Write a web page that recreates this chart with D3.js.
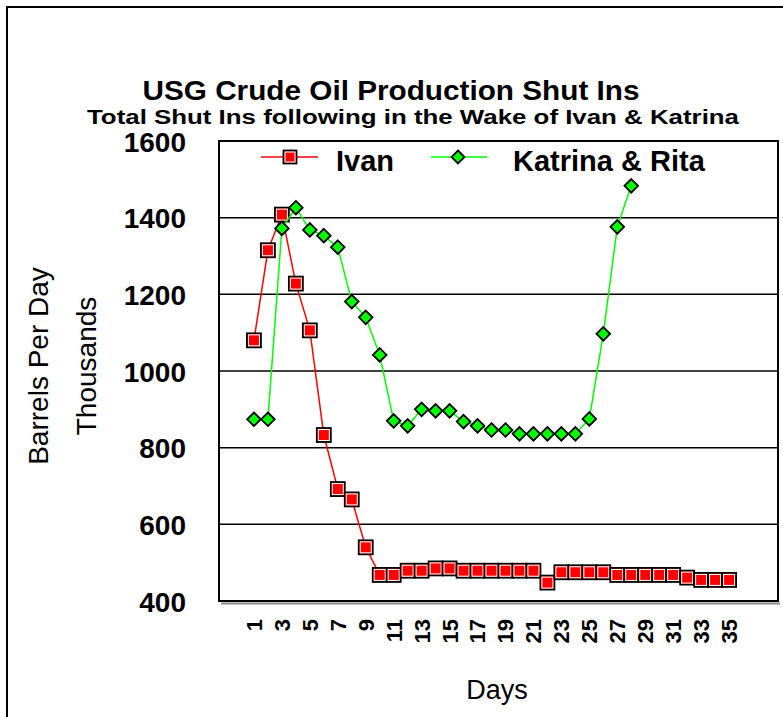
<!DOCTYPE html>
<html>
<head>
<meta charset="utf-8">
<script src="https://cdn.jsdelivr.net/npm/d3@7"></script>
<style>
  body { margin: 0; background: #fff; }
  text { font-family: "Liberation Sans", Arial, sans-serif; }
</style>
</head>
<body>
<div id="chart"></div>
<script>
var days = [1, 2, 3, 4, 5, 6, 7, 8, 9, 10, 11, 12, 13, 14, 15, 16, 17, 18, 19, 20,
            21, 22, 23, 24, 25, 26, 27, 28, 29, 30, 31, 32, 33, 34, 35];
var ivan = [1080, 1315, 1408, 1228, 1106, 833, 692, 665, 540, 468, 468, 479, 479, 485, 485, 479, 479, 479, 479, 479,
            479, 448, 475, 475, 475, 475, 468, 468, 468, 468, 468, 461, 455, 455, 455];
var katrina = [874, 874, 1372, 1426, 1368, 1353, 1323, 1181, 1140, 1042, 870, 857, 900, 896, 896, 868, 857, 846, 846, 836,
               836, 836, 836, 836, 875, 1097, 1376, 1483];
var yTicks = [400, 600, 800, 1000, 1200, 1400, 1600];
// empty category slots Excel left around the days
var leadSlots = ["_a", "_b"];
var trailSlots = ["_c", "_d", "_e"];

var width = 783, height = 717;
var plot = {left: 219, top: 141, right: 778, bottom: 601};

var svg = d3.select("#chart").append("svg")
    .attr("width", width)
    .attr("height", height);

// outer frame
svg.append("rect")
    .attr("x", 7).attr("y", 7)
    .attr("width", 800).attr("height", 800)
    .attr("fill", "#fff")
    .attr("stroke", "#000")
    .attr("stroke-width", 2);

var x = d3.scaleBand()
    .domain(leadSlots.concat(days.map(String), trailSlots))
    .range([plot.left, plot.right])
    .padding(0);

var y = d3.scaleLinear()
    .domain([400, 1600])
    .range([plot.bottom, plot.top]);

function cx(d) { return x(String(d)) + x.bandwidth() / 2; }

// shadow under plot
svg.append("line")
    .attr("x1", plot.left + 2).attr("x2", plot.right + 2)
    .attr("y1", plot.bottom + 2.5).attr("y2", plot.bottom + 2.5)
    .attr("stroke", "#888").attr("stroke-width", 2);

svg.append("rect")
    .attr("x", plot.left).attr("y", plot.top)
    .attr("width", plot.right - plot.left).attr("height", plot.bottom - plot.top)
    .attr("fill", "#fff");

// gridlines
svg.append("g")
    .selectAll("line")
    .data(yTicks.slice(1, -1))
    .enter().append("line")
    .attr("x1", plot.left).attr("x2", plot.right)
    .attr("y1", function(d) { return y(d); })
    .attr("y2", function(d) { return y(d); })
    .attr("stroke", "#000")
    .attr("stroke-width", 1.5);

svg.append("rect")
    .attr("x", plot.left).attr("y", plot.top)
    .attr("width", plot.right - plot.left).attr("height", plot.bottom - plot.top)
    .attr("fill", "none")
    .attr("stroke", "#000")
    .attr("stroke-width", 2);

// y axis
var yAxis = svg.append("g")
    .attr("transform", "translate(" + (plot.left - 33) + ",0)")
    .call(d3.axisLeft(y).tickValues(yTicks).tickSize(0).tickFormat(d3.format("d")));
yAxis.select(".domain").remove();
yAxis.selectAll("text")
    .attr("x", 0)
    .attr("dy", "0.36em")
    .style("font-size", "28px")
    .style("font-weight", "bold")
    .attr("fill", "#000");

// x axis
var xAxis = svg.append("g")
    .attr("transform", "translate(0," + plot.bottom + ")")
    .call(d3.axisBottom(x)
        .tickValues(days.filter(function(d) { return d % 2 === 1; }).map(String))
        .tickSize(0));
xAxis.select(".domain").remove();
xAxis.selectAll("text")
    .attr("transform", "rotate(-90)")
    .attr("x", -18)
    .attr("y", 0)
    .attr("dy", "0.36em")
    .style("text-anchor", "end")
    .style("font-size", "22px")
    .style("font-weight", "bold")
    .attr("fill", "#000");

// lines
var lineFn = d3.line()
    .x(function(d, i) { return cx(days[i]); })
    .y(function(d) { return y(d); });

svg.append("path")
    .datum(ivan)
    .attr("d", lineFn)
    .attr("fill", "none")
    .attr("stroke", "#ff0000")
    .attr("stroke-width", 1.5);

function square(g, px, py, s) {
    g.append("rect")
        .attr("x", px - s / 2).attr("y", py - s / 2)
        .attr("width", s).attr("height", s)
        .attr("fill", "#ff0000")
        .attr("stroke", "#000")
        .attr("stroke-width", 1.8);
    g.append("rect")
        .attr("x", px - s / 2 + 1.5).attr("y", py - s / 2 + 1.5)
        .attr("width", s - 3).attr("height", s - 3)
        .attr("fill", "none")
        .attr("stroke", "#fff")
        .attr("stroke-width", 1);
}

function diamond(g, px, py, r) {
    g.append("path")
        .attr("d", "M" + px + "," + (py - r) + "L" + (px + r) + "," + py + "L" + px + "," + (py + r) + "L" + (px - r) + "," + py + "Z")
        .attr("fill", "#00ff00")
        .attr("stroke", "#000")
        .attr("stroke-width", 1.8);
}

var gIvan = svg.append("g");
ivan.forEach(function(v, i) { square(gIvan, cx(days[i]), y(v), 14); });

svg.append("path")
    .datum(katrina)
    .attr("d", lineFn)
    .attr("fill", "none")
    .attr("stroke", "#00ff00")
    .attr("stroke-width", 1.5);

var gKat = svg.append("g");
katrina.forEach(function(v, i) { diamond(gKat, cx(days[i]), y(v), 6.8); });

// legend
var lg = svg.append("g");
lg.append("line").attr("x1", 261).attr("x2", 318).attr("y1", 157).attr("y2", 157)
    .attr("stroke", "#ff0000").attr("stroke-width", 1.5);
square(lg, 290, 157, 13);
lg.append("text").attr("x", 336).attr("y", 171)
    .style("font-size", "29px").style("font-weight", "bold").text("Ivan");
lg.append("line").attr("x1", 431).attr("x2", 487).attr("y1", 157).attr("y2", 157)
    .attr("stroke", "#00ff00").attr("stroke-width", 1.5);
diamond(lg, 458, 157, 6.5);
lg.append("text").attr("x", 513).attr("y", 171)
    .style("font-size", "29px").style("font-weight", "bold").text("Katrina & Rita");

// titles
svg.append("text")
    .attr("x", 391).attr("y", 100)
    .attr("text-anchor", "middle")
    .attr("textLength", 497)
    .attr("lengthAdjust", "spacingAndGlyphs")
    .style("font-size", "27px").style("font-weight", "bold")
    .text("USG Crude Oil Production Shut Ins");
svg.append("text")
    .attr("x", 413).attr("y", 124)
    .attr("text-anchor", "middle")
    .attr("textLength", 652)
    .attr("lengthAdjust", "spacingAndGlyphs")
    .style("font-size", "20px").style("font-weight", "bold")
    .text("Total Shut Ins following in the Wake of Ivan & Katrina");

svg.append("text")
    .attr("transform", "translate(48,366) rotate(-90)")
    .attr("text-anchor", "middle")
    .style("font-size", "28px")
    .text("Barrels Per Day");
svg.append("text")
    .attr("transform", "translate(96,366) rotate(-90)")
    .attr("text-anchor", "middle")
    .style("font-size", "28px")
    .text("Thousands");

svg.append("text")
    .attr("x", 497).attr("y", 699)
    .attr("text-anchor", "middle")
    .style("font-size", "27px")
    .text("Days");
</script>
</body>
</html>
